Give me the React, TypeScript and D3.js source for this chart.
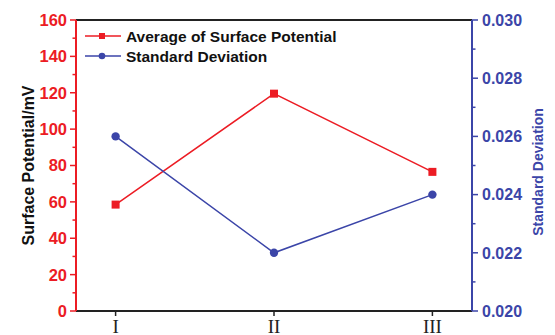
import React from "react";
import * as d3 from "d3";

const categories = ["I", "II", "III"];
const avgPotential = [58.5, 119.5, 76.5];
const stdDeviation = [0.026, 0.022, 0.024];
const leftTicks = [0, 20, 40, 60, 80, 100, 120, 140, 160];
const rightTicks = [0.02, 0.022, 0.024, 0.026, 0.028, 0.03];

const RED = "#ec1c24";
const BLUE = "#3b45a8";

export default function App() {
  const W = 555, H = 335;
  const L = 76, R = 472, T = 20, B = 311;
  const x = d3.scalePoint<string>().domain(categories).range([L, R]).padding(0.25);
  const yL = d3.scaleLinear().domain([0, 160]).range([B, T]);
  const yR = d3.scaleLinear().domain([0.02, 0.03]).range([B, T]);
  const lineL = d3.line<number>().x((_, i) => x(categories[i])!).y((d) => yL(d));
  const lineR = d3.line<number>().x((_, i) => x(categories[i])!).y((d) => yR(d));
  const minorL = d3.range(10, 160, 20);
  const minorR = d3.range(0.021, 0.03, 0.002);
  const font = "Liberation Sans, Arial, sans-serif";

  return (
    <svg width={W} height={H} style={{ position: "absolute", left: 0, top: 0 }}>
      <rect width={W} height={H} fill="#fff" />
      {/* frame */}
      <line x1={L} x2={R} y1={T} y2={T} stroke="#222" strokeWidth={2} />
      <line x1={L} x2={R} y1={B} y2={B} stroke="#222" strokeWidth={2} />
      <line x1={L} x2={L} y1={T} y2={B} stroke={RED} strokeWidth={2} />
      <line x1={R} x2={R} y1={T} y2={B} stroke={BLUE} strokeWidth={2} />
      {/* left ticks */}
      {leftTicks.map((t) => (
        <g key={"l" + t}>
          <line x1={L - 6} x2={L} y1={yL(t)} y2={yL(t)} stroke={RED} strokeWidth={1.5} />
          <text x={L - 9} y={yL(t)} dy="0.36em" textAnchor="end" fill={RED} fontFamily={font} fontWeight="bold" fontSize={16.5}>
            {t}
          </text>
        </g>
      ))}
      {minorL.map((t) => (
        <line key={"lm" + t} x1={L - 3.5} x2={L} y1={yL(t)} y2={yL(t)} stroke={RED} strokeWidth={1.5} />
      ))}
      {/* right ticks */}
      {rightTicks.map((t) => (
        <g key={"r" + t}>
          <line x1={R} x2={R + 6} y1={yR(t)} y2={yR(t)} stroke={BLUE} strokeWidth={1.5} />
          <text x={R + 10} y={yR(t)} dy="0.36em" textAnchor="start" fill={BLUE} fontFamily={font} fontWeight="bold" fontSize={16}>
            {t.toFixed(3)}
          </text>
        </g>
      ))}
      {minorR.map((t) => (
        <line key={"rm" + t} x1={R} x2={R + 3.5} y1={yR(t)} y2={yR(t)} stroke={BLUE} strokeWidth={1.5} />
      ))}
      {/* x ticks */}
      {categories.map((c) => (
        <g key={c}>
          <line x1={x(c)!} x2={x(c)!} y1={B} y2={B + 5} stroke="#222" strokeWidth={1.5} />
          <text x={x(c)!} y={B + 22} textAnchor="middle" fill="#222" fontFamily="Liberation Serif, Times New Roman, serif" fontSize={19}>
            {c}
          </text>
        </g>
      ))}
      {/* axis titles */}
      <text transform={`translate(34,${(T + B) / 2}) rotate(-90)`} textAnchor="middle" fill="#111" fontFamily={font} fontWeight="bold" fontSize={16}>
        Surface Potential/mV
      </text>
      <text transform={`translate(543,172) rotate(-90)`} textAnchor="middle" fill={BLUE} fontFamily={font} fontWeight="bold" fontSize={14}>
        Standard Deviation
      </text>
      {/* series */}
      <path d={lineL(avgPotential)!} fill="none" stroke={RED} strokeWidth={1.5} />
      {avgPotential.map((v, i) => (
        <rect key={"sq" + i} x={x(categories[i])! - 4} y={yL(v) - 4} width={8} height={8} fill={RED} />
      ))}
      <path d={lineR(stdDeviation)!} fill="none" stroke={BLUE} strokeWidth={1.5} />
      {stdDeviation.map((v, i) => (
        <circle key={"c" + i} cx={x(categories[i])!} cy={yR(v)} r={4.2} fill={BLUE} />
      ))}
      {/* legend */}
      <line x1={85} x2={121} y1={36} y2={36} stroke={RED} strokeWidth={1.5} />
      <rect x={99} y={33} width={6} height={6} fill={RED} />
      <text x={126} y={36} dy="0.36em" fill="#111" fontFamily={font} fontWeight="bold" fontSize={15.5}>
        Average of Surface Potential
      </text>
      <line x1={85} x2={121} y1={56} y2={56} stroke={BLUE} strokeWidth={1.5} />
      <circle cx={102} cy={56} r={3.3} fill={BLUE} />
      <text x={126} y={56} dy="0.36em" fill="#111" fontFamily={font} fontWeight="bold" fontSize={15.5}>
        Standard Deviation
      </text>
    </svg>
  );
}
